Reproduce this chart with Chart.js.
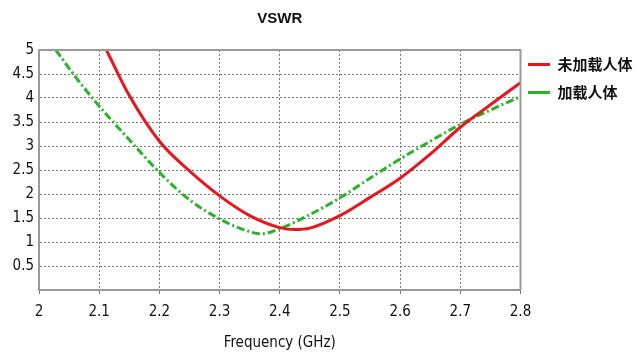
<!DOCTYPE html>
<html>
<head>
<meta charset="utf-8">
<script src="https://cdn.jsdelivr.net/npm/chart.js@4.4.1/dist/chart.umd.min.js"></script>
<style>
html,body{margin:0;padding:0;background:#fff;}
#wrap{width:640px;height:360px;position:relative;}
</style>
</head>
<body>
<div id="wrap"><canvas id="c" width="640" height="360"></canvas></div>
<script>
// ---- data ----
const chartTitle = 'VSWR';
const xAxisTitle = 'Frequency (GHz)';
const seriesNames = ['未加载人体', '加载人体'];

const freqUnloaded = [2.112, 2.15, 2.2, 2.25, 2.3, 2.35, 2.4, 2.425, 2.45, 2.5, 2.55, 2.6, 2.65, 2.7, 2.75, 2.8];
const vswrUnloaded = [5.0, 4.05, 3.1, 2.48, 1.96, 1.55, 1.3, 1.26, 1.29, 1.55, 1.93, 2.33, 2.83, 3.39, 3.86, 4.32];

const freqLoaded = [2.028, 2.06, 2.1, 2.15, 2.2, 2.25, 2.3, 2.335, 2.37, 2.4, 2.45, 2.5, 2.55, 2.6, 2.65, 2.7, 2.75, 2.8];
const vswrLoaded = [5.0, 4.45, 3.83, 3.13, 2.45, 1.88, 1.48, 1.28, 1.17, 1.28, 1.57, 1.92, 2.33, 2.73, 3.1, 3.45, 3.75, 4.03];

const xMin = 2, xMax = 2.8, xStep = 0.1;
const yMin = 0, yMax = 5, yStep = 0.5;

// ---- chart ----
const toPoints = (xs, ys) => xs.map((x, i) => ({x: x, y: ys[i]}));
const labelFont = "'DejaVu Sans Condensed', 'DejaVu Sans', sans-serif";
const titleFont = "'Liberation Sans Narrow', 'Liberation Sans', sans-serif";

const frame = {
  id: 'frame',
  afterLayout(chart) {
    // place the legend block beside the plot like the reference
    const lg = chart.legend;
    if (!lg) return;
    const dx = 515 - lg.left, dy = 44 - lg.top;
    lg.left += dx; lg.right += dx; lg.top += dy; lg.bottom += dy;
  },
  afterDatasetsDraw(chart) {
    const a = chart.chartArea, ctx = chart.ctx;
    ctx.save();
    ctx.strokeStyle = '#9a9a9a';
    ctx.lineWidth = 2;
    ctx.beginPath();
    ctx.moveTo(a.left, a.top);
    ctx.lineTo(a.right, a.top);
    ctx.lineTo(a.right, a.bottom);
    ctx.stroke();
    ctx.restore();
  }
};

new Chart(document.getElementById('c'), {
  type: 'line',
  data: {
    datasets: [
      {
        label: seriesNames[0],
        data: toPoints(freqUnloaded, vswrUnloaded),
        borderColor: '#e8161e',
        backgroundColor: '#e8161e',
        borderWidth: 3,
        pointRadius: 0,
        cubicInterpolationMode: 'monotone',
        fill: false
      },
      {
        label: seriesNames[1],
        data: toPoints(freqLoaded, vswrLoaded),
        borderColor: '#27b427',
        backgroundColor: '#27b427',
        borderWidth: 3,
        borderDash: [8, 3, 2, 3],
        pointRadius: 0,
        cubicInterpolationMode: 'monotone',
        fill: false
      }
    ]
  },
  options: {
    responsive: false,
    animation: false,
    devicePixelRatio: 1,
    layout: {padding: {left: 0, right: -8, top: 0, bottom: 0}},
    plugins: {
      title: {
        display: true,
        text: chartTitle,
        fullSize: false,
        color: '#111',
        font: {family: titleFont, size: 15, weight: 'bold', lineHeight: 1.2},
        padding: {top: 10, bottom: 22}
      },
      legend: {
        display: true,
        position: 'right',
        align: 'start',
        fullSize: false,
        labels: {
          usePointStyle: true,
          pointStyle: 'line',
          pointStyleWidth: 22,
          color: '#111',
          padding: 13,
          font: {family: "'Noto Sans CJK SC', sans-serif", size: 15, weight: 'bold', lineHeight: 1.2}
        }
      },
      tooltip: {enabled: false}
    },
    scales: {
      x: {
        type: 'linear',
        min: xMin,
        max: xMax,
        afterFit(s) { s.height = 70; },
        ticks: {
          stepSize: xStep,
          color: '#111',
          padding: 9,
          maxRotation: 0,
          autoSkip: false,
          font: {family: labelFont, size: 15},
          callback: v => Number(v.toFixed(1)).toString()
        },
        grid: {
          color: '#777',
          lineWidth: 1,
          drawTicks: true,
          tickLength: 4,
          tickColor: '#777',
          tickBorderDash: []
        },
        border: {display: true, color: '#9a9a9a', width: 2, dash: [2, 2]},
        title: {
          display: true,
          text: xAxisTitle,
          color: '#111',
          font: {family: labelFont, size: 15, lineHeight: 1.2},
          padding: {top: 4, bottom: 8}
        }
      },
      y: {
        type: 'linear',
        min: yMin,
        max: yMax,
        afterFit(s) { s.width = 39; },
        ticks: {
          stepSize: yStep,
          color: '#111',
          padding: 5,
          font: {family: labelFont, size: 15},
          callback: v => (v === 0 ? '' : Number(v.toFixed(1)).toString())
        },
        grid: {
          color: '#777',
          lineWidth: 1,
          drawTicks: false
        },
        border: {display: true, color: '#9a9a9a', width: 2, dash: [2, 2]}
      }
    }
  },
  plugins: [frame]
});
</script>
</body>
</html>
